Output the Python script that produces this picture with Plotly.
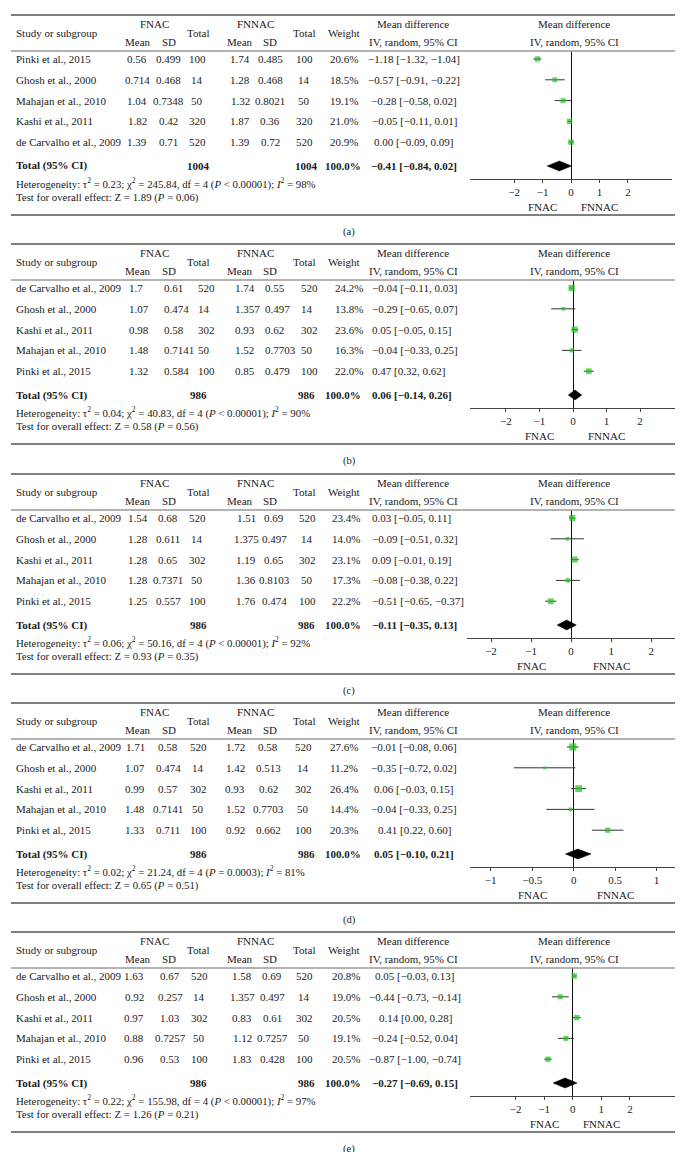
import plotly.graph_objects as go

# ---------------- Data ----------------
# Panel (a)
A_STUDIES = ["Pinki et al., 2015", "Ghosh et al., 2000", "Mahajan et al., 2010", "Kashi et al., 2011", "de Carvalho et al., 2009"]
A_FNAC_MEAN = [0.56, 0.714, 1.04, 1.82, 1.39]
A_FNAC_SD = [0.499, 0.468, 0.7348, 0.42, 0.71]
A_FNAC_N = [100, 14, 50, 320, 520]
A_FNNAC_MEAN = [1.74, 1.28, 1.32, 1.87, 1.39]
A_FNNAC_SD = [0.485, 0.468, 0.8021, 0.36, 0.72]
A_FNNAC_N = [100, 14, 50, 320, 520]
A_WEIGHT = [20.6, 18.5, 19.1, 21.0, 20.9]
A_MD = [-1.18, -0.57, -0.28, -0.05, 0.00]
A_LO = [-1.32, -0.91, -0.58, -0.11, -0.09]
A_HI = [-1.04, -0.22, 0.02, 0.01, 0.09]
A_TOTAL_N = [1004, 1004]
A_TOTAL_MD = [-0.41, -0.84, 0.02]
A_HET = ["0.23", "245.84", "4", "<", "0.00001", "98"]
A_Z = ["1.89", "0.06"]
A_TICKS = [-2, -1, 0, 1, 2]

# Panel (b)
B_STUDIES = ["de Carvalho et al., 2009", "Ghosh et al., 2000", "Kashi et al., 2011", "Mahajan et al., 2010", "Pinki et al., 2015"]
B_FNAC_MEAN = [1.7, 1.07, 0.98, 1.48, 1.32]
B_FNAC_SD = [0.61, 0.474, 0.58, 0.7141, 0.584]
B_FNAC_N = [520, 14, 302, 50, 100]
B_FNNAC_MEAN = [1.74, 1.357, 0.93, 1.52, 0.85]
B_FNNAC_SD = [0.55, 0.497, 0.62, 0.7703, 0.479]
B_FNNAC_N = [520, 14, 302, 50, 100]
B_WEIGHT = [24.2, 13.8, 23.6, 16.3, 22.0]
B_MD = [-0.04, -0.29, 0.05, -0.04, 0.47]
B_LO = [-0.11, -0.65, -0.05, -0.33, 0.32]
B_HI = [0.03, 0.07, 0.15, 0.25, 0.62]
B_TOTAL_N = [986, 986]
B_TOTAL_MD = [0.06, -0.14, 0.26]
B_HET = ["0.04", "40.83", "4", "<", "0.00001", "90"]
B_Z = ["0.58", "0.56"]
B_TICKS = [-2, -1, 0, 1, 2]

# Panel (c)
C_STUDIES = ["de Carvalho et al., 2009", "Ghosh et al., 2000", "Kashi et al., 2011", "Mahajan et al., 2010", "Pinki et al., 2015"]
C_FNAC_MEAN = [1.54, 1.28, 1.28, 1.28, 1.25]
C_FNAC_SD = [0.68, 0.611, 0.65, 0.7371, 0.557]
C_FNAC_N = [520, 14, 302, 50, 100]
C_FNNAC_MEAN = [1.51, 1.375, 1.19, 1.36, 1.76]
C_FNNAC_SD = [0.69, 0.497, 0.65, 0.8103, 0.474]
C_FNNAC_N = [520, 14, 302, 50, 100]
C_WEIGHT = [23.4, 14.0, 23.1, 17.3, 22.2]
C_MD = [0.03, -0.09, 0.09, -0.08, -0.51]
C_LO = [-0.05, -0.51, -0.01, -0.38, -0.65]
C_HI = [0.11, 0.32, 0.19, 0.22, -0.37]
C_TOTAL_N = [986, 986]
C_TOTAL_MD = [-0.11, -0.35, 0.13]
C_HET = ["0.06", "50.16", "4", "<", "0.00001", "92"]
C_Z = ["0.93", "0.35"]
C_TICKS = [-2, -1, 0, 1, 2]

# Panel (d)
D_STUDIES = ["de Carvalho et al., 2009", "Ghosh et al., 2000", "Kashi et al., 2011", "Mahajan et al., 2010", "Pinki et al., 2015"]
D_FNAC_MEAN = [1.71, 1.07, 0.99, 1.48, 1.33]
D_FNAC_SD = [0.58, 0.474, 0.57, 0.7141, 0.711]
D_FNAC_N = [520, 14, 302, 50, 100]
D_FNNAC_MEAN = [1.72, 1.42, 0.93, 1.52, 0.92]
D_FNNAC_SD = [0.58, 0.513, 0.62, 0.7703, 0.662]
D_FNNAC_N = [520, 14, 302, 50, 100]
D_WEIGHT = [27.6, 11.2, 26.4, 14.4, 20.3]
D_MD = [-0.01, -0.35, 0.06, -0.04, 0.41]
D_LO = [-0.08, -0.72, -0.03, -0.33, 0.22]
D_HI = [0.06, 0.02, 0.15, 0.25, 0.60]
D_TOTAL_N = [986, 986]
D_TOTAL_MD = [0.05, -0.10, 0.21]
D_HET = ["0.02", "21.24", "4", "=", "0.0003", "81"]
D_Z = ["0.65", "0.51"]
D_TICKS = [-1, -0.5, 0, 0.5, 1]

# Panel (e)
E_STUDIES = ["de Carvalho et al., 2009", "Ghosh et al., 2000", "Kashi et al., 2011", "Mahajan et al., 2010", "Pinki et al., 2015"]
E_FNAC_MEAN = [1.63, 0.92, 0.97, 0.88, 0.96]
E_FNAC_SD = [0.67, 0.257, 1.03, 0.7257, 0.53]
E_FNAC_N = [520, 14, 302, 50, 100]
E_FNNAC_MEAN = [1.58, 1.357, 0.83, 1.12, 1.83]
E_FNNAC_SD = [0.69, 0.497, 0.61, 0.7257, 0.428]
E_FNNAC_N = [520, 14, 302, 50, 100]
E_WEIGHT = [20.8, 19.0, 20.5, 19.1, 20.5]
E_MD = [0.05, -0.44, 0.14, -0.24, -0.87]
E_LO = [-0.03, -0.73, 0.00, -0.52, -1.00]
E_HI = [0.13, -0.14, 0.28, 0.04, -0.74]
E_TOTAL_N = [986, 986]
E_TOTAL_MD = [-0.27, -0.69, 0.15]
E_HET = ["0.22", "155.98", "4", "<", "0.00001", "97"]
E_Z = ["1.26", "0.21"]
E_TICKS = [-2, -1, 0, 1, 2]

CAPTIONS = ["(a)", "(b)", "(c)", "(d)", "(e)"]

# ---------------- Layout constants ----------------
W, H = 683, 1152
FONT = "Liberation Serif"
FS = 11
TXT = "#1a1a1a"
GREEN = "#1cc41c"

C = "center"
L = "left"
# column placement per panel: (x px, anchor)
COLS_A = dict(fm=(129, C), fs=(160, C), fn=(189, C), nm=(232, C), ns=(262, C), nn=(296, C), w=(336, C), md=(406, C))
COLS_B = dict(fm=(119, L), fs=(154, L), fn=(188, L), nm=(225, L), ns=(255, L), nn=(291, L), w=(325, L), md=(362, L))
COLS_C = dict(fm=(118, L), fs=(160, C), fn=(189, C), nm=(238, C), ns=(266, C), nn=(299, C), w=(338, C), md=(362, L))
COLS_D = dict(fm=(127, C), fs=(160, C), fn=(190, C), nm=(227, C), ns=(260, C), nn=(295, C), w=(336, C), md=(406, C))
COLS_E = dict(fm=(126, C), fs=(162, C), fn=(191, C), nm=(234, C), ns=(264, C), nn=(296, C), w=(338, C), md=(407, C))

PANELS = [
    dict(top=7, studies=A_STUDIES, fm=A_FNAC_MEAN, fs=A_FNAC_SD, fn=A_FNAC_N, nm=A_FNNAC_MEAN, ns=A_FNNAC_SD, nn=A_FNNAC_N,
         w=A_WEIGHT, md=A_MD, lo=A_LO, hi=A_HI, tn=A_TOTAL_N, tmd=A_TOTAL_MD, het=A_HET, z=A_Z, ticks=A_TICKS,
         dom=(462, 664), rng=(-3.55, 3.55), lab=1, cols=COLS_A),
    dict(top=236, studies=B_STUDIES, fm=B_FNAC_MEAN, fs=B_FNAC_SD, fn=B_FNAC_N, nm=B_FNNAC_MEAN, ns=B_FNNAC_SD, nn=B_FNNAC_N,
         w=B_WEIGHT, md=B_MD, lo=B_LO, hi=B_HI, tn=B_TOTAL_N, tmd=B_TOTAL_MD, het=B_HET, z=B_Z, ticks=B_TICKS,
         dom=(462, 668), rng=(-3.07, 3.07), lab=1, cols=COLS_B),
    dict(top=466, studies=C_STUDIES, fm=C_FNAC_MEAN, fs=C_FNAC_SD, fn=C_FNAC_N, nm=C_FNNAC_MEAN, ns=C_FNNAC_SD, nn=C_FNNAC_N,
         w=C_WEIGHT, md=C_MD, lo=C_LO, hi=C_HI, tn=C_TOTAL_N, tmd=C_TOTAL_MD, het=C_HET, z=C_Z, ticks=C_TICKS,
         dom=(459, 668), rng=(-2.6, 2.62), lab=1, cols=COLS_C),
    dict(top=695, studies=D_STUDIES, fm=D_FNAC_MEAN, fs=D_FNAC_SD, fn=D_FNAC_N, nm=D_FNNAC_MEAN, ns=D_FNNAC_SD, nn=D_FNNAC_N,
         w=D_WEIGHT, md=D_MD, lo=D_LO, hi=D_HI, tn=D_TOTAL_N, tmd=D_TOTAL_MD, het=D_HET, z=D_Z, ticks=D_TICKS,
         dom=(462, 671), rng=(-1.25, 1.27), lab=0.5, cols=COLS_D),
    dict(top=924, studies=E_STUDIES, fm=E_FNAC_MEAN, fs=E_FNAC_SD, fn=E_FNAC_N, nm=E_FNNAC_MEAN, ns=E_FNNAC_SD, nn=E_FNNAC_N,
         w=E_WEIGHT, md=E_MD, lo=E_LO, hi=E_HI, tn=E_TOTAL_N, tmd=E_TOTAL_MD, het=E_HET, z=E_Z, ticks=E_TICKS,
         dom=(462, 669), rng=(-3.6, 3.65), lab=1, cols=COLS_E),
]

ROW0, ROWH = 44, 20.8          # first study row offset and row pitch (px)
AX_BOTTOM, AX_TOP = 164, 36     # forest area vertical extent within panel (px)
TOTAL_ROW = (151 - ROW0) / ROWH
Y_LOW = (AX_BOTTOM - ROW0) / ROWH
Y_HIGH = (AX_TOP - ROW0) / ROWH


def px(x):
    return x / W


def py(y):
    return 1 - y / H


def num(v):
    return f"{v:.2f}".replace("-", "\u2212")


fig = go.Figure()
annotations = []
shapes = []


def ann(text, x, y, xref="paper", yref="paper", xanchor="center", size=FS, color=TXT):
    annotations.append(dict(text=text, x=x, y=y, xref=xref, yref=yref, xanchor=xanchor,
                            yanchor="middle", showarrow=False,
                            font=dict(family=FONT, size=size, color=color)))


for k, p in enumerate(PANELS, start=1):
    T = p["top"]
    xa = "x" if k == 1 else f"x{k}"
    ya = "y" if k == 1 else f"y{k}"
    xkey = "xaxis" if k == 1 else f"xaxis{k}"
    ykey = "yaxis" if k == 1 else f"yaxis{k}"

    fig.update_layout({
        xkey: dict(domain=[px(p["dom"][0]), px(p["dom"][1])], range=list(p["rng"]), anchor=ya,
                   showgrid=False, zeroline=True, zerolinecolor="#111", zerolinewidth=1,
                   showline=True, linecolor="#444", linewidth=1, ticks="outside", ticklen=3,
                   tickcolor="#444", tickvals=p["ticks"], tickfont=dict(family=FONT, size=FS, color=TXT),
                   fixedrange=True),
        ykey: dict(domain=[py(T + AX_BOTTOM), py(T + AX_TOP)], range=[Y_LOW, Y_HIGH], anchor=xa,
                   visible=False, showgrid=False, zeroline=False, fixedrange=True),
    })

    rows = list(range(len(p["studies"])))
    fig.add_trace(go.Scatter(
        x=p["md"], y=rows, xaxis=xa, yaxis=ya, mode="markers",
        marker=dict(symbol="square", size=[wt * 0.26 for wt in p["w"]], color=GREEN, line=dict(width=0)),
        error_x=dict(type="data", symmetric=False,
                     array=[h - m for h, m in zip(p["hi"], p["md"])],
                     arrayminus=[m - l for m, l in zip(p["md"], p["lo"])],
                     color="#333", thickness=1, width=0),
        showlegend=False, hoverinfo="skip"))
    tm, tl, th = p["tmd"]
    dh = 0.24
    fig.add_trace(go.Scatter(
        x=[tl, tm, th, tm, tl], y=[TOTAL_ROW, TOTAL_ROW - dh, TOTAL_ROW, TOTAL_ROW + dh, TOTAL_ROW],
        xaxis=xa, yaxis=ya, mode="lines", fill="toself", fillcolor="black",
        line=dict(color="black", width=0.5), showlegend=False, hoverinfo="skip"))

    for yy, col, lw in [(T, "#555", 1.5), (T + AX_TOP, "#999", 1.3), (T + 200, "#555", 1.5)]:
        shapes.append(dict(type="line", xref="paper", yref="paper", x0=px(3), x1=px(680),
                           y0=py(yy), y1=py(yy), line=dict(color=col, width=lw)))

    # header
    ann("Study or subgroup", px(6), py(T + 18), xanchor="left")
    ann("FNAC", px(146), py(T + 9))
    ann("Mean", px(130), py(T + 27))
    ann("SD", px(161), py(T + 27))
    ann("Total", px(190), py(T + 18))
    ann("FNNAC", px(247), py(T + 9))
    ann("Mean", px(232), py(T + 27))
    ann("SD", px(262), py(T + 27))
    ann("Total", px(296), py(T + 18))
    ann("Weight", px(336), py(T + 18))
    ann("Mean difference", px(405), py(T + 9))
    ann("IV, random, 95% CI", px(405), py(T + 27))
    ann("Mean difference", px(566), py(T + 9))
    ann("IV, random, 95% CI", px(566), py(T + 27))

    cols = p["cols"]

    def cell(text, key, yv, bold=False):
        x, a = cols[key]
        ann(f"<b>{text}</b>" if bold else text, px(x), yv, yref=ya, xanchor=a)

    for i, name in enumerate(p["studies"]):
        ann(name, px(6), i, yref=ya, xanchor="left")
        cell(str(p["fm"][i]), "fm", i)
        cell(str(p["fs"][i]), "fs", i)
        cell(str(p["fn"][i]), "fn", i)
        cell(str(p["nm"][i]), "nm", i)
        cell(str(p["ns"][i]), "ns", i)
        cell(str(p["nn"][i]), "nn", i)
        cell(f"{p['w'][i]:.1f}%", "w", i)
        cell(f"{num(p['md'][i])} [{num(p['lo'][i])}, {num(p['hi'][i])}]", "md", i)

    # total row
    ann("<b>Total (95% CI)</b>", px(6), TOTAL_ROW, yref=ya, xanchor="left")
    ann(f"<b>{p['tn'][0]}</b>", px(190), TOTAL_ROW, yref=ya)
    ann(f"<b>{p['tn'][1]}</b>", px(298), TOTAL_ROW, yref=ya)
    ann("<b>100.0%</b>", px(335), TOTAL_ROW, yref=ya)
    cell(f"{num(tm)} [{num(tl)}, {num(th)}]", "md", TOTAL_ROW, bold=True)

    h = p["het"]
    rel = "&lt;" if h[3] == "<" else "="
    ann(f"Heterogeneity: \u03c4<sup>2</sup> = {h[0]}; \u03c7<sup>2</sup> = {h[1]}, df = {h[2]} (<i>P</i> {rel} {h[4]}); <i>I</i><sup>2</sup> = {h[5]}%",
        px(6), py(T + 168), xanchor="left", size=10.8)
    ann(f"Test for overall effect: Z = {p['z'][0]} (<i>P</i> = {p['z'][1]})", px(6), py(T + 182), xanchor="left", size=10.8)

    ann("FNAC", -p["lab"], py(T + 192), xref=xa)
    ann("FNNAC", p["lab"], py(T + 192), xref=xa)

    ann(CAPTIONS[k - 1], px(341), py(T + 217), size=10.5)

fig.update_layout(width=W, height=H, margin=dict(l=0, r=0, t=0, b=0),
                  paper_bgcolor="white", plot_bgcolor="white",
                  annotations=annotations, shapes=shapes, showlegend=False)

fig.write_html("out.html")
